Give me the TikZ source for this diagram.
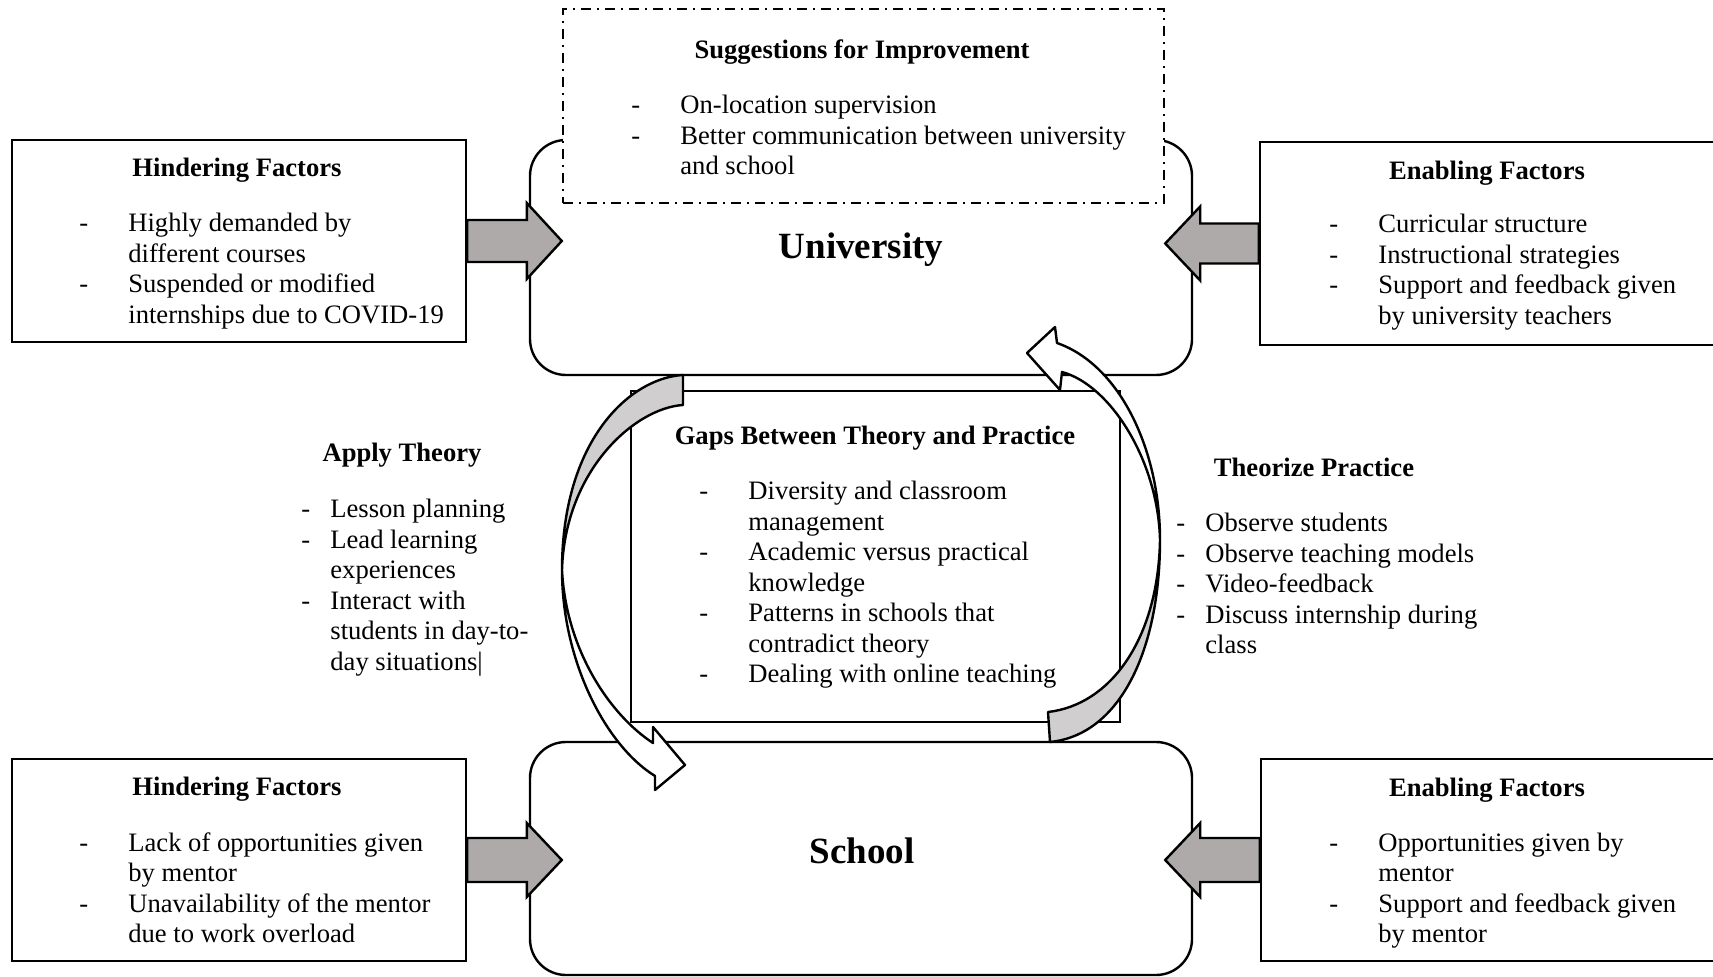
\documentclass[tikz,border=0pt]{standalone}
\usepackage{fontspec}
\setmainfont{Liberation Serif}
\usetikzlibrary{calc}

\definecolor{arrowgrey}{HTML}{AEAAAA}
\definecolor{curvegrey}{HTML}{D0CECE}

\begin{document}
\begin{tikzpicture}[x=0.5pt, y=-0.5pt]
  \tikzset{frame/.style={draw, line width=1.2pt, fill=white, inner sep=0pt}};
  \tikzset{placebox/.style={frame, rounded corners=18pt, minimum width=331pt}};
  \tikzset{factorbox/.style={frame, minimum width=227pt, minimum height=101pt}};
  \tikzset{fatarrow/.style={draw, line width=1.2pt, fill=arrowgrey, line join=miter}};
  \tikzset{bendarrow/.style={draw, line width=1.2pt, line join=round}};
  \tikzset{heading/.style={anchor=base, inner sep=0pt, font=\fontsize{13.3}{15.25}\selectfont\bfseries}};
  \tikzset{place/.style={anchor=base, inner sep=0pt, font=\fontsize{18.5}{22}\selectfont\bfseries}};
  \tikzset{items/.style={anchor=base west, inner sep=0pt, font=\fontsize{13.3}{15.25}\selectfont}};

  \useasboundingbox (0,0) rectangle (1713,977);

  % main boxes
  \node[placebox, minimum height=117.5pt] (univ) at (861,257.5) {};
  \node[frame, dash pattern=on 5pt off 3pt on 1pt off 3pt,
        minimum width=300.5pt, minimum height=97pt] (sugg) at (863.5,106) {};
  \node[frame, minimum width=244.5pt, minimum height=165.5pt] (gaps) at (875.5,556.5) {};
  \node[placebox, minimum height=116.5pt] (school) at (861,858.5) {};

  % factor boxes
  \node[factorbox] (hinderU) at (239,241) {};
  \node[factorbox, minimum width=228pt, minimum height=101.5pt] (enableU) at (1488,243.5) {};
  \node[factorbox] (hinderS) at (239,860) {};
  \node[factorbox, minimum width=227.5pt] (enableS) at (1488.5,860) {};

  % block arrows
  \draw[fatarrow] ($(hinderU.east)+(0,-21)$) -- ($(hinderU.east -| univ.west)+(-2,-21)$)
    -- ++(0,-17) -- ++(35,38) -- ++(-35,38) -- ++(0,-17) -- ($(hinderU.east)+(0,21)$) -- cycle;
  \draw[fatarrow] ($(enableU.west)+(0,-20)$) -- ($(enableU.west -| univ.east)+(7,-20)$)
    -- ++(0,-17) -- ++(-35,37) -- ++(35,37) -- ++(0,-17) -- ($(enableU.west)+(0,20)$) -- cycle;
  \draw[fatarrow] ($(hinderS.east)+(0,-22)$) -- ($(hinderS.east -| school.west)+(-2,-22)$)
    -- ++(0,-15) -- ++(35,37) -- ++(-35,37) -- ++(0,-15) -- ($(hinderS.east)+(0,22)$) -- cycle;
  \draw[fatarrow] ($(enableS.west)+(0,-22)$) -- ($(enableS.west -| school.east)+(7,-22)$)
    -- ++(0,-15) -- ++(-35,37) -- ++(35,37) -- ++(0,-15) -- ($(enableS.west)+(0,22)$) -- cycle;

  % curved arrow: university -> school
  \draw[bendarrow, fill=curvegrey] (683,375) .. controls (630,378) and (562,440) .. (562,570)
    .. controls (565,470) and (635,408) .. (683,405) -- cycle;
  \draw[bendarrow, fill=white] (562,570) .. controls (562,660) and (605,745) .. (655,776)
    -- (655,790) -- (685,765) -- (653,727) -- (653,743)
    .. controls (610,715) and (566,650) .. (562,570) -- cycle;

  % curved arrow: school -> university
  \draw[bendarrow, fill=curvegrey] (1050,742) .. controls (1120,735) and (1160,650) .. (1160,540)
    .. controls (1158,640) and (1110,705) .. (1048,712) -- cycle;
  \draw[bendarrow, fill=white] (1160,540) .. controls (1160,450) and (1120,365) .. (1057,343)
    -- (1055,327) -- (1027,353) -- (1060,390) -- (1062,372)
    .. controls (1110,385) and (1158,460) .. (1160,540) -- cycle;

  % texts
  \node[place] (univt) at (861,259) {University};
  \node[place] (schoolt) at (862,863) {School};

  \node[heading] (suggt) at (862,59) {Suggestions for Improvement};
  \node[items] (suggl) at (631,114) {\begin{tabular}[t]{@{}p{24.5pt}@{}l@{}}
    - & On-location supervision\\
    - & Better communication between university\\
      & and school
  \end{tabular}};

  \node[heading] (hinderUt) at (237,177) {Hindering Factors};
  \node[items] (hinderUl) at (79,232) {\begin{tabular}[t]{@{}p{24.5pt}@{}l@{}}
    - & Highly demanded by\\
      & different courses\\
    - & Suspended or modified\\
      & internships due to COVID-19
  \end{tabular}};

  \node[heading] (enableUt) at (1487,180) {Enabling Factors};
  \node[items] (enableUl) at (1329,233) {\begin{tabular}[t]{@{}p{24.5pt}@{}l@{}}
    - & Curricular structure\\
    - & Instructional strategies\\
    - & Support and feedback given\\
      & by university teachers
  \end{tabular}};

  \node[heading] (gapst) at (875,445) {Gaps Between Theory and Practice};
  \node[items] (gapsl) at (699,500) {\begin{tabular}[t]{@{}p{24.5pt}@{}l@{}}
    - & Diversity and classroom\\
      & management\\
    - & Academic versus practical\\
      & knowledge\\
    - & Patterns in schools that\\
      & contradict theory\\
    - & Dealing with online teaching
  \end{tabular}};

  \node[heading] (applyt) at (402,462) {Apply Theory};
  \node[items] (applyl) at (301,518) {\begin{tabular}[t]{@{}p{14.5pt}@{}l@{}}
    - & Lesson planning\\
    - & Lead learning\\
      & experiences\\
    - & Interact with\\
      & students in day-to-\\
      & day situations|
  \end{tabular}};

  \node[heading] (theoryt) at (1314,477) {Theorize Practice};
  \node[items] (theoryl) at (1176,532) {\begin{tabular}[t]{@{}p{14.5pt}@{}l@{}}
    - & Observe students\\
    - & Observe teaching models\\
    - & Video-feedback\\
    - & Discuss internship during\\
      & class
  \end{tabular}};

  \node[heading] (hinderSt) at (237,796) {Hindering Factors};
  \node[items] (hinderSl) at (79,851) {\begin{tabular}[t]{@{}p{24.5pt}@{}l@{}}
    - & Lack of opportunities given\\
      & by mentor\\
    - & Unavailability of the mentor\\
      & due to work overload
  \end{tabular}};

  \node[heading] (enableSt) at (1487,797) {Enabling Factors};
  \node[items] (enableSl) at (1329,851) {\begin{tabular}[t]{@{}p{24.5pt}@{}l@{}}
    - & Opportunities given by\\
      & mentor\\
    - & Support and feedback given\\
      & by mentor
  \end{tabular}};

\end{tikzpicture}
\end{document}
